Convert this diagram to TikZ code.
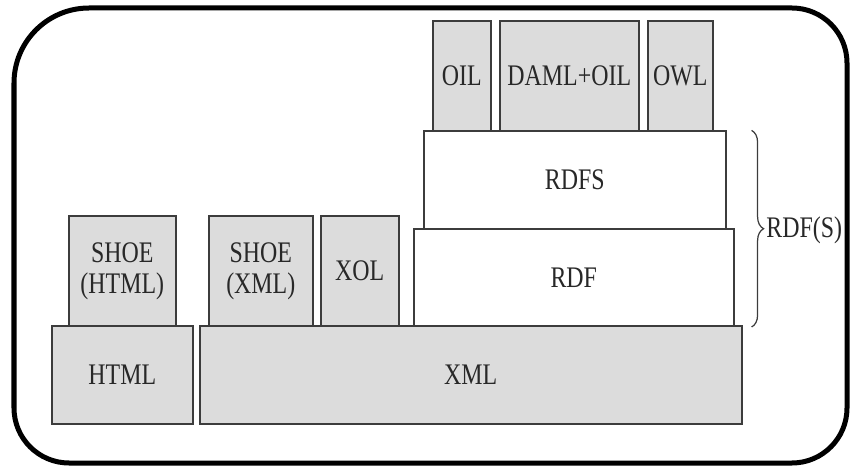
\documentclass[tikz,border=0pt]{standalone}
\usepackage{fontspec}
\setmainfont{Liberation Serif}
\newfontfamily\layerfont[FakeStretch=0.8]{Liberation Serif}
\usepackage{tikz}
\usetikzlibrary{positioning,calc,decorations.pathreplacing}
\definecolor{layergrey}{RGB}{220,220,220}
\definecolor{layerline}{RGB}{60,60,60}
\definecolor{layertext}{RGB}{40,40,40}

\begin{document}
\begin{tikzpicture}[
  layerbox/.style={draw=layerline,line width=0.9pt,anchor=south west,inner sep=0pt,
    align=center,text=layertext,font=\layerfont\fontsize{17}{20}\selectfont},
  greybox/.style={layerbox,fill=layergrey},
  whitebox/.style={layerbox,fill=white},
  rdfbrace/.style={draw=layerline,line width=0.7pt,decorate,decoration={brace,amplitude=0.24cm}}
]
  \useasboundingbox (0,0) rectangle (17,9.32);
  \draw[line width=0.1cm] (0.28,4.6) [rounded corners=1.5cm] -- (0.28,9.16) -- (8,9.16)
    [rounded corners=1.1cm] -- (16.94,9.16) -- (16.94,0.06) -- (0.28,0.06) -- cycle;
  % bottom layer
  \node[greybox,minimum width=2.82cm,minimum height=1.96cm] (html) at (1.02,0.82) {HTML};
  \node[greybox,minimum width=10.84cm,minimum height=1.96cm] (xml) at (3.98,0.82) {XML};
  % on top of html / xml
  \node[greybox,minimum width=2.14cm,minimum height=2.2cm] (shoehtml) at (1.36,2.78) {SHOE\\[-2pt](HTML)};
  \node[greybox,minimum width=2.08cm,minimum height=2.2cm] (shoexml) at (4.16,2.78) {SHOE\\[-2pt](XML)};
  \node[greybox,minimum width=1.56cm,minimum height=2.2cm] (xol) at (6.4,2.78) {XOL};
  \node[whitebox,minimum width=6.4cm,minimum height=1.94cm] (rdf) at (8.26,2.78) {RDF};
  \node[whitebox,minimum width=6.04cm,minimum height=1.96cm] (rdfs) at (8.46,4.72) {RDFS};
  % ontology languages
  \node[greybox,minimum width=1.16cm,minimum height=2.2cm] (oil) at (8.64,6.68) {OIL};
  \node[greybox,minimum width=2.78cm,minimum height=2.2cm] (damloil) at (9.98,6.68) {DAML+OIL};
  \node[greybox,minimum width=1.3cm,minimum height=2.2cm] (owl) at (12.94,6.68) {OWL};
  % brace
  \coordinate (bracetop) at ($(rdfs.north east)+(0.5,0)$);
  \coordinate (bracebot) at (bracetop |- rdf.south);
  \draw[rdfbrace] (bracetop) -- (bracebot);
  \node[anchor=west,inner sep=0pt,text=layertext,font=\layerfont\fontsize{17}{20}\selectfont] (rdfslabel)
    at (15.32,4.72) {RDF(S)};
\end{tikzpicture}
\end{document}
